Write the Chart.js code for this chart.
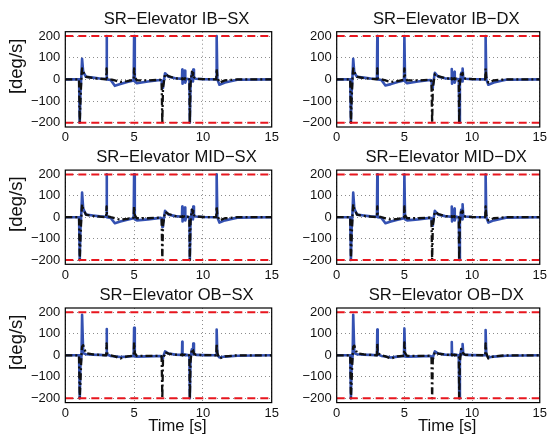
<!DOCTYPE html>
<html><head><meta charset="utf-8">
<script src="https://cdn.jsdelivr.net/npm/chart.js@4.4.0/dist/chart.umd.min.js"></script>
<style>
html,body{margin:0;padding:0;background:#fff;overflow:hidden;width:550px;height:441px;position:relative;}
canvas{position:absolute;}
</style></head><body>
<canvas id="c0"></canvas><canvas id="c1"></canvas><canvas id="c2"></canvas>
<canvas id="c3"></canvas><canvas id="c4"></canvas><canvas id="c5"></canvas>
<script>
// ---- data ----
const time = [0, 1.0, 1.05, 1.1, 1.18, 1.22, 1.3, 1.5, 2.0, 2.5, 2.97, 3.0, 3.03, 3.3, 3.6, 4.0, 4.5, 4.97, 5.0, 5.05, 5.2, 6.0, 6.9, 7.0, 7.05, 7.1, 7.25, 7.5, 8.0, 8.48, 8.5, 8.52, 8.6, 8.7, 8.72, 8.8, 9.02, 9.05, 9.1, 9.2, 9.28, 9.3, 9.35, 9.5, 10.0, 10.97, 11.0, 11.05, 11.2, 11.6, 12.5, 15];
const xTicks = [0, 5, 10, 15];
const yTicks = [-200, -100, 0, 100, 200];
const xRange = [0, 15];
const yRange = [-220, 220];
const limits = [200, -200];
const titles = ['SR\u2212Elevator IB\u2212SX', 'SR\u2212Elevator IB\u2212DX', 'SR\u2212Elevator MID\u2212SX', 'SR\u2212Elevator MID\u2212DX', 'SR\u2212Elevator OB\u2212SX', 'SR\u2212Elevator OB\u2212DX'];
const yLabel = '[deg/s]';
const xLabel = 'Time [s]';

const blueIBSX  = [0, 0, -200, -60, 30, 95, 35, 12, 8, 4, 2, 200, 0, -3, -30, -22, -12, -5, 200, -10, -18, -10, -3, -5, -40, -30, 28, 12, 5, 2, 45, -20, 5, 40, -15, 3, 0, -200, -20, 30, -10, 45, 5, 3, 1, 0, 200, 0, -25, -15, -2, 0];
const blackIBSX = [0, 0, -200, -100, 20, 50, 35, 12, 6, 3, 0, 50, 5, 0, -5, -12, -8, -2, 50, 10, -5, -5, -2, -10, -200, -40, 25, 15, 5, 2, 5, 0, 3, 5, 0, 3, 0, -200, -20, 35, 20, 30, 10, 3, 1, 0, 50, 10, -15, -5, 0, 0];
const blueIBDX  = [0, 0, -200, -60, 30, 95, 30, 12, 8, 4, 2, 200, 0, -3, -28, -22, -12, -5, 200, -10, -18, -10, -3, -5, -40, -30, 30, 12, 5, 2, 48, -20, 5, 35, -15, 3, 0, -200, -20, 30, -10, 50, 5, 3, 1, 0, 200, 0, -25, -15, -2, 0];
const blackIBDX = [0, 0, -200, -100, 20, 50, 35, 12, 6, 3, 0, 50, 5, 0, -5, -12, -8, -2, 50, 10, -5, -5, -2, -10, -200, -40, 25, 15, 5, 2, 5, 0, 3, 5, 0, 3, 0, -200, -20, 35, 20, 30, 10, 3, 1, 0, 50, 10, -15, -5, 0, 0];
const blueMIDSX  = [0, 0, -200, -60, 40, 115, 40, 12, 8, 4, 2, 200, 0, -3, -28, -20, -12, -5, 200, -10, -15, -10, -3, -5, -45, -30, 30, 12, 5, 2, 50, -20, 5, 45, -15, 3, 0, -200, -20, 35, -10, 50, 5, 3, 1, 0, 200, 0, -25, -15, -2, 0];
const blackMIDSX = [0, 0, -200, -100, 20, 60, 40, 12, 6, 3, 0, 50, 5, 0, -5, -12, -8, -2, 50, 10, -5, -5, -2, -10, -200, -40, 25, 15, 5, 2, 5, 0, 3, 5, 0, 3, 0, -200, -20, 35, 20, 30, 10, 3, 1, 0, 50, 10, -15, -5, 0, 0];
const blueMIDDX  = [0, 0, -200, -60, 40, 115, 40, 12, 8, 4, 2, 200, 0, -3, -28, -20, -12, -5, 200, -10, -15, -10, -3, -5, -40, -30, 30, 12, 5, 2, 50, -20, 5, 40, -15, 3, 0, -200, -20, 35, -10, 60, 5, 3, 1, 0, 200, 0, -25, -15, -2, 0];
const blackMIDDX = [0, 0, -200, -100, 20, 60, 40, 12, 6, 3, 0, 50, 5, 0, -5, -12, -8, -2, 50, 10, -5, -5, -2, -10, -200, -40, 25, 15, 5, 2, 5, 0, 3, 5, 0, 3, 0, -200, -20, 35, 20, 30, 10, 3, 1, 0, 50, 10, -15, -5, 0, 0];
const blueOBSX  = [0, 0, -200, -50, 0, 188, 10, 5, 3, 2, 0, 122, 5, -3, -5, -8, -6, -3, 128, -5, -6, -5, -3, -5, -15, -10, 18, 8, 3, 2, 63, 0, 2, 3, 0, 2, 0, -200, -10, 28, 5, 55, 5, 2, 1, 0, 120, 2, -10, -6, -2, 0];
const blackOBSX = [0, 0, -200, -120, 10, 40, 47, 10, 4, 2, 0, 55, 10, 0, -5, -15, -5, -2, 60, 10, -3, -3, -2, -5, -200, -20, 15, 8, 3, 1, 5, 0, 2, 2, 0, 2, 0, -200, -30, 30, 25, 20, 8, 2, 1, 0, 55, 10, -15, -5, 0, 0];
const blueOBDX  = [0, 0, -200, -50, 0, 188, 10, 5, 3, 2, 0, 120, 5, -3, -6, -10, -6, -3, 125, -5, -6, -5, -3, -5, -15, -10, 18, 8, 3, 2, 62, 0, 2, 3, 0, 2, 0, -200, -10, 28, 5, 52, 5, 2, 1, 0, 118, 2, -10, -6, -2, 0];
const blackOBDX = [0, 0, -200, -120, 10, 40, 45, 10, 4, 2, 0, 55, 10, 0, -5, -15, -5, -2, 60, 10, -3, -3, -2, -5, -200, -20, 15, 8, 3, 1, 5, 0, 2, 2, 0, 2, 0, -200, -30, 30, 25, 20, 8, 2, 1, 0, 55, 10, -15, -5, 0, 0];

const blueSeries = [blueIBSX, blueIBDX, blueMIDSX, blueMIDDX, blueOBSX, blueOBDX];
const blackSeries = [blackIBSX, blackIBDX, blackMIDSX, blackMIDDX, blackOBSX, blackOBDX];

// ---- layout geometry (page pixels) ----
const plotLeft = [65.3, 336.7], plotRight = [271.7, 542.3];
const plotTop = [31.7, 170.1, 308], plotBottom = [127, 264.3, 402.6];
const canvasLeft = [0, 275], canvasWidth = [290, 275];
const canvasTop = [0, 138, 276], canvasHeight = [150, 150, 165];
const XAXIS_H = 20;
const FONT = '"Liberation Sans", Arial, Helvetica, sans-serif';

const deco = {
  id: 'deco',
  afterDatasetsDraw(chart) {
    const {ctx, chartArea: a} = chart;
    ctx.save();
    ctx.strokeStyle = '#000'; ctx.lineWidth = 1.2;
    ctx.strokeRect(a.left, a.top, a.right - a.left, a.bottom - a.top);
    ctx.restore();
  },
  afterDraw(chart, args, o) {
    const {ctx, chartArea: a} = chart;
    const cx = (a.left + a.right) / 2, cy = (a.top + a.bottom) / 2;
    ctx.save();
    ctx.fillStyle = '#111';
    ctx.textAlign = 'center'; ctx.textBaseline = 'middle';
    ctx.font = '16.6px ' + FONT;
    ctx.fillText(o.title, cx + 8, a.top - 12.7);
    if (o.xLabel) ctx.fillText(o.xLabel, cx + 9, a.bottom + 23.5);
    if (o.yLabel) {
      ctx.translate(16.5, cy - 13);
      ctx.rotate(-Math.PI / 2);
      ctx.font = '18.5px ' + FONT;
      ctx.fillText(o.yLabel, 0, 0);
    }
    ctx.restore();
  }
};

const fmt = v => v < 0 ? '\u2212' + Math.abs(v) : String(v);

for (let i = 0; i < 6; i++) {
  const col = i % 2, row = Math.floor(i / 2);
  const cv = document.getElementById('c' + i);
  const W = canvasWidth[col], H = canvasHeight[row];
  cv.width = W; cv.height = H;
  cv.style.left = canvasLeft[col] + 'px';
  cv.style.top = canvasTop[row] + 'px';
  cv.style.width = W + 'px'; cv.style.height = H + 'px';
  const padTop = plotTop[row] - canvasTop[row];
  const padRight = W - (plotRight[col] - canvasLeft[col]);
  const padBottom = H - (plotBottom[row] - canvasTop[row]) - XAXIS_H;
  const yW = plotLeft[col] - canvasLeft[col];

  const pts = arr => time.map((t, k) => ({x: t, y: arr[k]}));
  const limitDs = limits.map(v => ({
    data: xRange.map(x => ({x: x, y: v})),
    borderColor: '#e8161e', borderWidth: 2, borderDash: [8, 5],
    pointRadius: 0, order: 0
  }));

  new Chart(cv, {
    type: 'line',
    data: {
      datasets: [
        ...limitDs,
        {data: pts(blackSeries[i]), borderColor: '#111', borderWidth: 2.3, borderDash: [7, 3, 2, 3], pointRadius: 0, order: 1},
        {data: pts(blueSeries[i]), borderColor: '#3451b2', borderWidth: 2.6, pointRadius: 0, order: 2}
      ]
    },
    options: {
      responsive: false, animation: false, devicePixelRatio: 1,
      layout: {padding: {left: 0, top: padTop, right: padRight, bottom: padBottom}},
      elements: {line: {tension: 0, borderJoinStyle: 'round', borderCapStyle: 'butt'}},
      plugins: {
        legend: {display: false}, tooltip: {enabled: false}, title: {display: false},
        deco: {title: titles[i], xLabel: row === 2 ? xLabel : null, yLabel: col === 0 ? yLabel : null}
      },
      scales: {
        x: {
          type: 'linear', min: xRange[0], max: xRange[1],
          afterBuildTicks: s => { s.ticks = xTicks.map(v => ({value: v})); },
          afterFit: s => { s.height = XAXIS_H; },
          grid: {color: '#8c8c8c', lineWidth: 1, drawTicks: false},
          border: {display: false, dash: [1, 3]},
          ticks: {font: {size: 13, family: FONT}, color: '#111', padding: 3, maxRotation: 0, autoSkip: false, callback: fmt}
        },
        y: {
          type: 'linear', min: yRange[0], max: yRange[1],
          afterBuildTicks: s => { s.ticks = yTicks.map(v => ({value: v})); },
          afterFit: s => { s.width = yW; },
          grid: {color: '#8c8c8c', lineWidth: 1, drawTicks: false},
          border: {display: false, dash: [1, 3]},
          ticks: {font: {size: 13, family: FONT}, color: '#111', padding: 5, autoSkip: false, callback: fmt}
        }
      }
    },
    plugins: [deco]
  });
}
</script>
</body></html>
